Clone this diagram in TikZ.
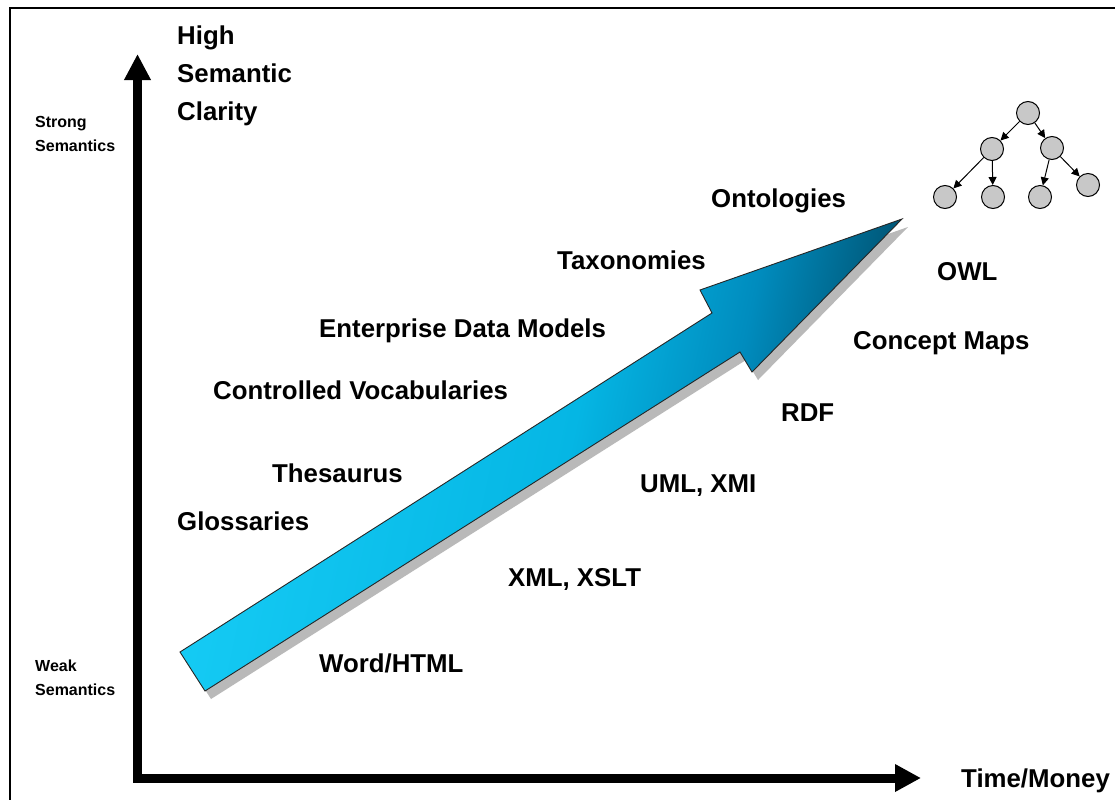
\documentclass[tikz,border=0pt]{standalone}
\usepackage{fontspec}
\setmainfont{Liberation Sans}
\usetikzlibrary{arrows.meta}
\definecolor{cyanL}{RGB}{22,204,245}
\definecolor{cyanA}{RGB}{5,182,228}
\definecolor{cyanB}{RGB}{0,140,190}
\definecolor{cyanD}{RGB}{0,72,100}
\definecolor{shadowgray}{RGB}{185,185,185}
\definecolor{nodegray}{RGB}{200,200,200}
\pgfdeclarehorizontalshading{arrowshade}{100bp}{color(0bp)=(cyanL); color(25bp)=(cyanL); color(52bp)=(cyanA); color(63bp)=(cyanB); color(75bp)=(cyanD); color(100bp)=(cyanD)}
\begin{document}
\begin{tikzpicture}[x=1pt,y=-1pt,
  lab/.style={font=\fontsize{25.8}{30}\selectfont\bfseries, anchor=west, inner sep=0},
  small/.style={font=\fontsize{16}{24}\selectfont\bfseries, anchor=west, inner sep=0, align=left},
  tn/.style={circle, draw=black, fill=nodegray, minimum size=23, inner sep=0, line width=1},
  ta/.style={-{Triangle[length=8,width=8]}, line width=1},
  axis/.style={line width=9, line join=miter, {Triangle[length=26,width=25]}-{Triangle[length=26,width=26]}}
]
\useasboundingbox (0,0) rectangle (1115,800);
\fill[white] (0,0) rectangle (1115,800);
\draw[line width=2] (1115,8) -- (10,8) -- (10,800);

% axes
\coordinate (ytop) at (137.5,54);
\coordinate (O) at (137.5,778);
\coordinate (xend) at (921,778);
\draw[axis] (ytop) -- (O) -- (xend);

% big arrow
\coordinate (A1) at (180,652);
\coordinate (A2) at (712,313);
\coordinate (A3) at (700,290);
\coordinate (T) at (902,219);
\coordinate (A4) at (752,372);
\coordinate (A5) at (740,352);
\coordinate (A6) at (205,691);
\begin{scope}[transform canvas={shift={(6pt,-8pt)}}]
\fill[shadowgray] (A1) -- (A2) -- (A3) -- (T) -- (A4) -- (A5) -- (A6) -- cycle;
\end{scope}
\shade[shading=arrowshade, shading angle=-12]
  (A1) -- (A2) -- (A3) -- (T) -- (A4) -- (A5) -- (A6) -- cycle;
\draw[line width=0.9, black!85, line join=miter]
  (A1) -- (A2) -- (A3) -- (T) -- (A4) -- (A5) -- (A6) -- cycle;

% axis labels
\node[lab, anchor=north west, align=left, font=\fontsize{25.8}{38}\selectfont\bfseries] (hsc) at (177,26) {High\\Semantic\\Clarity};
\node[small] (strong) at (35,134) {Strong\\Semantics};
\node[small] (weak) at (35,678) {Weak\\Semantics};
\node[lab] (tm) at (961,781) {Time/Money};

% left labels
\node[lab] (onto) at (711,201) {Ontologies};
\node[lab] (taxo) at (557,260) {Taxonomies};
\node[lab] (edm) at (319,331) {Enterprise Data Models};
\node[lab] (cv) at (213,390) {Controlled Vocabularies};
\node[lab] (thes) at (272,473) {Thesaurus};
\node[lab] (glos) at (177,521) {Glossaries};

% right labels
\node[lab] (owl) at (937,272) {OWL};
\node[lab] (cmap) at (853,343) {Concept Maps};
\node[lab] (rdf) at (781,413) {RDF};
\node[lab] (uml) at (640,486) {UML, XMI};
\node[lab] (xml) at (508,579) {XML, XSLT};
\node[lab] (word) at (319,663) {Word/HTML};

% tree
\node[tn] (r) at (1028,113) {};
\node[tn] (m1) at (992,149) {};
\node[tn] (m2) at (1052,148) {};
\node[tn] (l1) at (945,197) {};
\node[tn] (l2) at (993,197) {};
\node[tn] (l3) at (1040,197) {};
\node[tn] (l4) at (1088,185) {};
\draw[ta] (r) -- (m1);
\draw[ta] (r) -- (m2);
\draw[ta] (m1) -- (l1);
\draw[ta] (m1) -- (l2);
\draw[ta] (m2) -- (l3);
\draw[ta] (m2) -- (l4);
\end{tikzpicture}
\end{document}
